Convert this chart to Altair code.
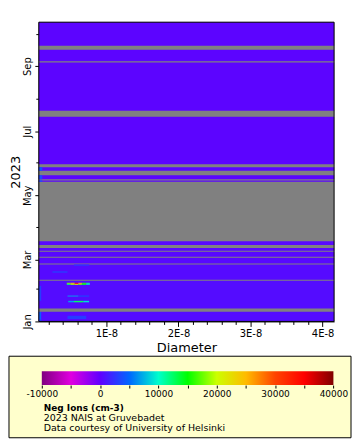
import altair as alt
import pandas as pd

# ---------------- colour scale (Neg Ions, cm-3) ----------------
cs_values = [-10000, -5000, 0, 5000, 10000, 15000, 20000, 25000, 30000, 35000, 40000]
cs_colors = ["#800080", "#e000e0", "#6000ff", "#0066ff", "#00ffcc", "#00ff00",
             "#ccff00", "#ffbb00", "#ff4400", "#ff0000", "#800000"]
legend_tick_values = [-10000, -5000, 0, 5000, 10000, 15000, 20000, 25000, 30000, 35000, 40000]
legend_domain = [-10511, 40119]

# ---------------- axes ----------------
diam_domain = [6.2e-10, 4.16e-8]          # metres
x_tick_values = [2e-9, 4e-9, 6e-9, 8e-9, 1e-8, 1.2e-8, 1.4e-8, 1.6e-8, 1.8e-8, 2e-8,
                 2.2e-8, 2.4e-8, 2.6e-8, 2.8e-8, 3e-8, 3.2e-8, 3.4e-8, 3.6e-8, 3.8e-8, 4e-8]
y_tick_months = [1, 2, 3, 4, 5, 6, 7, 8, 9, 10]
time_end_day = 284.8                      # day of year at the top of the plot

# ---------------- measurement periods (day of year 2023) ----------------
period_start = [0.0, 12.31, 39.75, 55.25, 61.55, 67.25, 72.65, 133.0, 135.2, 143.4, 149.7, 200.5, 247.5, 262.4]
period_end   = [9.19, 38.75, 54.25, 60.55, 66.25, 69.8, 76.4, 134.2, 139.2, 146.8, 194.9, 246.5, 258.6, 284.8]
period_level = [600, 600, 500, 400, 400, 400, 400, 300, 300, 300, 200, 200, 200, 200]

# ---------------- notable events (day start/end, diameter nm, concentration) ----------------
ev_start = [0.5, 2.0, 2.3, 19.6, 18.2, 18.2, 18.2, 23.7, 23.7,
            34.8, 34.8, 34.8, 34.8, 34.8, 34.8,
            35.8, 35.8, 35.8, 35.8, 35.8, 35.8,
            46.1, 52.8, 133.0, 135.2, 143.4]
ev_end   = [2.0, 9.0, 5.4, 33.8, 19.6, 19.6, 19.6, 24.6, 24.6,
            35.8, 35.8, 35.8, 35.8, 35.8, 35.8,
            36.8, 36.8, 36.8, 36.8, 36.8, 36.8,
            48.0, 54.25, 134.2, 139.2, 146.8]
ev_dmin  = [0.62, 0.62, 4.6, 0.62, 4.7, 5.5, 6.8, 4.6, 6.1,
            4.5, 5.0, 5.6, 6.1, 6.6, 7.2,
            4.5, 5.0, 5.6, 6.1, 6.6, 7.2,
            2.5, 5.5, 0.62, 0.62, 0.62]
ev_dmax  = [1.0, 0.95, 7.2, 0.95, 5.5, 6.8, 7.6, 6.1, 7.6,
            5.0, 5.6, 6.1, 6.6, 7.2, 7.7,
            5.0, 5.6, 6.1, 6.6, 7.2, 7.7,
            4.6, 7.6, 1.1, 1.1, 1.1]
ev_value = [3500, 4500, 3000, 3000, 7000, 12500, 9000, 7000, 4000,
            12000, 19000, 22000, 18000, 14000, 9000,
            18000, 24000, 33000, 25000, 16000, 11000,
            2200, 2200, 4000, 3500, 4000]

# ---------------- legend text ----------------
legend_title = "Neg Ions (cm-3)"
legend_lines = ["2023 NAIS at Gruvebadet", "Data courtesy of University of Helsinki"]

FONT = "DejaVu Sans"
base = pd.Timestamp("2023-01-01T00:00:00")


def ts(days):
    return [(base + pd.Timedelta(days=d)).strftime("%Y-%m-%dT%H:%M:%S") for d in days]


bg_df = pd.DataFrame({"t0": ts([0.0]), "t1": ts([time_end_day]),
                      "d0": [diam_domain[0]], "d1": [diam_domain[1]]})
per_df = pd.DataFrame({"t0": ts(period_start), "t1": ts(period_end),
                       "d0": [diam_domain[0]] * len(period_start),
                       "d1": [diam_domain[1]] * len(period_start),
                       "v": period_level})
ev_df = pd.DataFrame({"t0": ts(ev_start), "t1": ts(ev_end),
                      "d0": [d * 1e-9 for d in ev_dmin], "d1": [d * 1e-9 for d in ev_dmax],
                      "v": ev_value})

color_scale = alt.Scale(domain=cs_values, range=cs_colors, interpolate="rgb", clamp=True)

MAJOR_X = "abs(datum.value*1e8 - round(datum.value*1e8)) < 0.01"
x_axis = alt.Axis(
    values=x_tick_values,
    labelExpr=f"({MAJOR_X}) ? (format(round(datum.value*1e8), 'd') + 'E-8') : ''",
    tickSize={"condition": {"test": MAJOR_X, "value": 5}, "value": 3},
    labelFontSize=10, labelPadding=2, labelOverlap=False, labelFlush=False,
    titleFontSize=13, titleFontWeight="normal", titlePadding=3, grid=False,
)
y_axis = alt.Axis(
    values=[alt.DateTime(year=2023, month=m, date=1) for m in y_tick_months],
    labelExpr="month(datum.value) % 2 == 0 ? timeFormat(datum.value, '%b') : ''",
    tickSize={"condition": {"test": "month(datum.value) % 2 == 0", "value": 4}, "value": 3},
    labelAngle=-90, labelAlign="center", labelBaseline="bottom",
    labelFontSize=10, labelPadding=2, labelOverlap=False,
    titleFontSize=13, titleFontWeight="normal", titlePadding=0, grid=False,
)

x_scale = alt.Scale(domain=diam_domain, nice=False, zero=False)
y_scale = alt.Scale(domain=[alt.DateTime(year=2023, month=1, date=1),
                            alt.DateTime(year=2023, month=10, date=12, hours=19, minutes=12)],
                    nice=False)

bg = alt.Chart(bg_df).mark_rect(color="#808080").encode(
    x=alt.X("d0:Q", scale=x_scale, axis=x_axis, title="Diameter"),
    x2="d1:Q",
    y=alt.Y("t0:T", scale=y_scale, axis=y_axis, title="2023"),
    y2="t1:T",
)
periods = alt.Chart(per_df).mark_rect().encode(
    x=alt.X("d0:Q", axis=x_axis, title="Diameter"), x2="d1:Q",
    y=alt.Y("t0:T", axis=y_axis, title="2023"), y2="t1:T",
    color=alt.Color("v:Q", scale=color_scale, legend=None),
)
events = alt.Chart(ev_df).mark_rect().encode(
    x=alt.X("d0:Q", axis=x_axis, title="Diameter"), x2="d1:Q",
    y=alt.Y("t0:T", axis=y_axis, title="2023"), y2="t1:T",
    color=alt.Color("v:Q", scale=color_scale, legend=None),
)
frame = alt.Chart(bg_df).mark_rect(fillOpacity=0, stroke="black", strokeWidth=1).encode(
    x=alt.X("d0:Q", axis=x_axis, title="Diameter"), x2="d1:Q",
    y=alt.Y("t0:T", axis=y_axis, title="2023"), y2="t1:T",
)
main = alt.layer(bg, periods, events, frame).properties(width=297, height=301)

# ---------------- legend panel ----------------
lo, hi = cs_values[0], cs_values[-1]
stops = [alt.GradientStop(offset=(v - lo) / (hi - lo), color=c) for v, c in zip(cs_values, cs_colors)]
grad_df = pd.DataFrame({"lo": [lo], "hi": [hi]})
leg_axis = alt.Axis(
    values=legend_tick_values,
    labelExpr="datum.value % 10000 == 0 ? '' + datum.value : ''",
    tickSize=3, domain=False, labelFontSize=9, labelPadding=2,
    labelOverlap=False, grid=False, title=None, labelFlush=False, zindex=1,
)
box = alt.Chart(grad_df).mark_rect(fill="#ffffcc", stroke="black", strokeWidth=1).encode(
    x=alt.value(-30), x2=alt.value(314), y=alt.value(-15), y2=alt.value(67),
)
grad = alt.Chart(grad_df).mark_rect(
    color=alt.Gradient(gradient="linear", stops=stops, x1=0, x2=1, y1=0, y2=0)
).encode(
    x=alt.X("lo:Q", scale=alt.Scale(domain=legend_domain, nice=False, zero=False), axis=leg_axis),
    x2="hi:Q",
    y=alt.value(0), y2=alt.value(14),
)
t_title = alt.Chart(grad_df).mark_text(
    text=legend_title, font=FONT, fontSize=9, fontWeight="bold", align="left",
    baseline="alphabetic", color="black"
).encode(x=alt.value(5), y=alt.value(40))
t_lines = alt.Chart(grad_df).mark_text(
    text=legend_lines, font=FONT, fontSize=9.5, align="left", baseline="alphabetic",
    lineHeight=10, color="black"
).encode(x=alt.value(5), y=alt.value(50))
legend_panel = alt.layer(box, grad, t_title, t_lines).properties(width=297, height=14)

chart = alt.vconcat(main, legend_panel, spacing=1).properties(
    padding={"top": 12, "left": 0, "right": 0, "bottom": 0}
).configure_view(
    stroke=None
).configure_axis(
    labelFont=FONT, titleFont=FONT, labelColor="black", titleColor="black",
    domainColor="black", tickColor="black", domainWidth=1, tickWidth=1,
    labelOverlap=False,
)

chart.save("out.html", embed_options={"renderer": "svg", "actions": False})
